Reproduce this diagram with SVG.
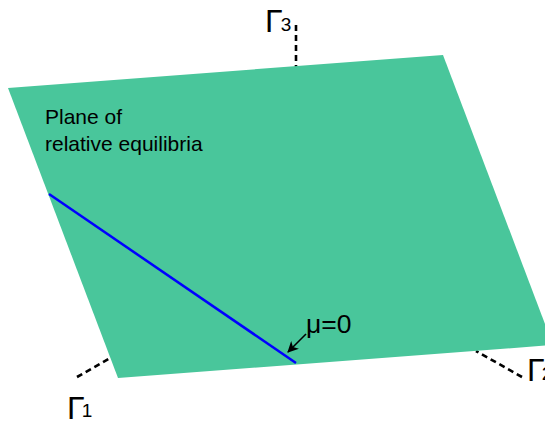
<svg xmlns="http://www.w3.org/2000/svg" width="545" height="421" viewBox="0 0 545 421">
<style>
.lbl{font-family:"Liberation Sans",Arial,sans-serif;fill:#000}
.gam{font-size:32px}
.sub{font-size:19px}
.axis{stroke:#000;stroke-width:2.6;stroke-dasharray:6,4;fill:none}
</style>
<defs>
<marker id="ah" markerWidth="11" markerHeight="11" refX="10" refY="5.5" orient="auto" markerUnits="userSpaceOnUse" viewBox="0 0 11 11">
<path d="M0,0 L11,5.5 L0,11 L3,5.5 Z" fill="#000"/>
</marker>
</defs>
<g id="connectors">
<line class="axis" x1="296" y1="25" x2="296" y2="67"/>
<line class="axis" x1="77" y1="377" x2="112" y2="357"/>
<line class="axis" x1="522" y1="377" x2="476" y2="351"/>
</g>
<g id="plane">
<polygon points="8,88 443,55 553,345 118,378" fill="#49C69B"/>
<text class="lbl" x="45" y="124" font-size="21">Plane of</text>
<text class="lbl" x="45" y="151" font-size="21">relative equilibria</text>
</g>
<g id="mu0">
<line x1="49" y1="194" x2="296" y2="363" stroke="#0000FF" stroke-width="2.5"/>
<line x1="306" y1="334" x2="288" y2="352" stroke="#000" stroke-width="1.6" marker-end="url(#ah)"/>
<text class="lbl" x="306" y="333" font-size="26.5">μ=0</text>
</g>
<g id="gamma3">
<text class="lbl gam" x="265" y="32">Γ<tspan class="sub" dx="-2" dy="-1">3</tspan></text>
</g>
<g id="gamma1">
<text class="lbl gam" x="67" y="419">Γ<tspan class="sub" dx="-3" dy="-2">1</tspan></text>
</g>
<g id="gamma2">
<text class="lbl gam" x="527" y="381">Γ<tspan class="sub" dx="-3" dy="-1">2</tspan></text>
</g>
</svg>
